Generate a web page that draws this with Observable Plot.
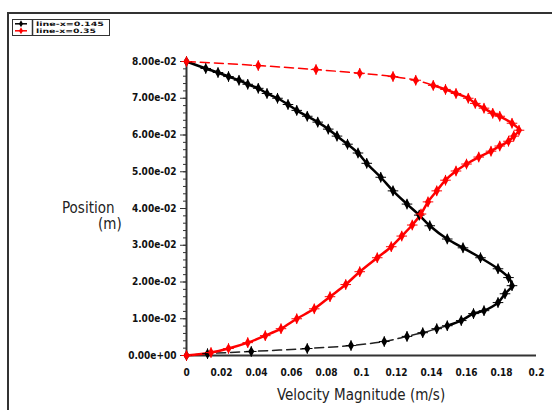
<!DOCTYPE html>
<html>
<head>
<meta charset="utf-8">
<script src="https://cdn.jsdelivr.net/npm/d3@7"></script>
<script src="https://cdn.jsdelivr.net/npm/@observablehq/plot@0.6"></script>
<style>
  html, body { margin: 0; padding: 0; background: #fff; }
  #wrap { position: relative; width: 552px; height: 410px; overflow: hidden; font-family: "DejaVu Sans Condensed", "DejaVu Sans", sans-serif; font-stretch: condensed; }
  #frame { position: absolute; left: 7px; top: 12px; width: 560px; height: 420px; border-top: 2px solid #333; border-left: 2px solid #333; box-sizing: border-box; pointer-events: none; }
  #legend { position: absolute; left: 12px; top: 19px; width: 98px; height: 17px; border: 1.5px solid #333; box-sizing: border-box; background: #fff; }
  #legend svg { position: absolute; left: 0; top: 0; }
  .ytitle { position: absolute; font-size: 15px; color: #222; white-space: nowrap; }
  .xtitle { position: absolute; font-size: 15px; color: #222; white-space: nowrap; }
</style>
</head>
<body>
<div id="wrap">
  <div id="chart"></div>
  <div id="frame"></div>
  <div id="legend"></div>
  <div class="ytitle" style="left:62px;top:199px;">Position</div>
  <div class="ytitle" style="left:98px;top:215px;">(m)</div>
  <div class="xtitle" style="left:277px;top:386px;">Velocity Magnitude (m/s)</div>
</div>
<script>
// ---- Data ----
const seriesNames = ["line-x=0.145", "line-x=0.35"];

const blackX = [0, 0.011, 0.018, 0.024, 0.030, 0.035, 0.041, 0.046, 0.052, 0.058, 0.063, 0.069, 0.075, 0.081, 0.086, 0.092, 0.098, 0.103, 0.111, 0.118, 0.126, 0.133, 0.139, 0.149, 0.158, 0.168, 0.178, 0.184, 0.186, 0.182, 0.178, 0.170, 0.164, 0.157, 0.149, 0.143, 0.135, 0.126, 0.113, 0.094, 0.069, 0.037, 0.012, 0];
const blackY = [0.0800, 0.0781, 0.0770, 0.0759, 0.0749, 0.0738, 0.0727, 0.0713, 0.0700, 0.0683, 0.0667, 0.0651, 0.0635, 0.0616, 0.0597, 0.0575, 0.0551, 0.0523, 0.0485, 0.0448, 0.0412, 0.0382, 0.0353, 0.0317, 0.0293, 0.0266, 0.0236, 0.0212, 0.0190, 0.0168, 0.0144, 0.0122, 0.0114, 0.0095, 0.0081, 0.0073, 0.0062, 0.0052, 0.0038, 0.0027, 0.0019, 0.0011, 0.0005, 0];

const redX = [0, 0.041, 0.074, 0.099, 0.118, 0.131, 0.141, 0.148, 0.154, 0.161, 0.165, 0.170, 0.175, 0.179, 0.186, 0.190, 0.187, 0.184, 0.179, 0.174, 0.167, 0.160, 0.154, 0.148, 0.143, 0.138, 0.134, 0.129, 0.123, 0.117, 0.109, 0.099, 0.091, 0.082, 0.073, 0.063, 0.054, 0.045, 0.035, 0.024, 0.014, 0];
const redY = [0.0800, 0.0789, 0.0778, 0.0768, 0.0759, 0.0749, 0.0735, 0.0724, 0.0713, 0.0700, 0.0686, 0.0673, 0.0659, 0.0651, 0.0632, 0.0613, 0.0597, 0.0583, 0.0570, 0.0556, 0.0540, 0.0521, 0.0502, 0.0477, 0.0448, 0.0418, 0.0385, 0.0355, 0.0325, 0.0296, 0.0266, 0.0228, 0.0193, 0.0160, 0.0127, 0.0100, 0.0073, 0.0054, 0.0035, 0.0019, 0.0008, 0];

const xTicks = [0, 0.02, 0.04, 0.06, 0.08, 0.1, 0.12, 0.14, 0.16, 0.18, 0.2];
const yTicks = [0, 0.01, 0.02, 0.03, 0.04, 0.05, 0.06, 0.07, 0.08];
const yMinorTicks = d3.range(0, 41).map(i => i * 0.002);

// ---- Build tables ----
const black = blackX.map((x, i) => ({x, y: blackY[i], i}));
const red = redX.map((x, i) => ({x, y: redY[i], i}));
// black: solid upper part, dashed lower tail; red: dashed upper part, solid rest
const blackSolid = black.filter(d => d.i <= 34);
const blackDash = black.filter(d => d.i >= 34);
const redDash = red.filter(d => d.i <= 6);
const redSolid = red.filter(d => d.i >= 6);

const fmtY = d => d.toExponential(2).replace(/e([+-])(\d)$/, "e$10$2");
const fmtX = d => String(+d.toFixed(2));

const chart = Plot.plot({
  width: 552,
  height: 410,
  marginLeft: 186,
  marginRight: 16,
  marginTop: 61,
  marginBottom: 55,
  style: {fontFamily: '"DejaVu Sans Condensed", "DejaVu Sans", sans-serif', fontSize: "10px", fontWeight: "bold", color: "#111", background: "transparent"},
  x: {domain: [0, 0.2]},
  y: {domain: [0, 0.08]},
  marks: [
    Plot.axisY({ticks: yMinorTicks, tickSize: 3, text: null, label: null, stroke: "#333"}),
    Plot.axisY({ticks: yTicks, tickSize: 6, tickPadding: 4, tickFormat: fmtY, label: null, stroke: "#333"}),
    Plot.axisX({ticks: xTicks, tickSize: 0, tickPadding: 13, tickFormat: fmtX, label: null}),
    Plot.ruleY([0], {stroke: "#333", strokeWidth: 2}),
    Plot.ruleX([0], {stroke: "#333", strokeWidth: 2}),
    Plot.line(blackSolid, {x: "x", y: "y", stroke: "black", strokeWidth: 2.5, curve: "catmull-rom"}),
    Plot.line(blackDash, {x: "x", y: "y", stroke: "#222", strokeWidth: 1.5, strokeDasharray: "9,5", curve: "catmull-rom"}),
    Plot.line(redDash, {x: "x", y: "y", stroke: "red", strokeWidth: 1.5, strokeDasharray: "9,5", curve: "catmull-rom"}),
    Plot.line(redSolid, {x: "x", y: "y", stroke: "red", strokeWidth: 2.5, curve: "catmull-rom"}),
    Plot.dot(black, {x: "x", y: "y", symbol: "diamond", r: 3.2, fill: "black", stroke: "none"}),
    Plot.dot(black, {x: "x", y: "y", symbol: "plus", r: 3.5, stroke: "black", strokeWidth: 1}),
    Plot.dot(red, {x: "x", y: "y", symbol: "diamond", r: 3.2, fill: "red", stroke: "none"}),
    Plot.dot(red, {x: "x", y: "y", symbol: "plus", r: 3.5, stroke: "red", strokeWidth: 1})
  ]
});
document.getElementById("chart").appendChild(chart);

// ---- Legend ----
const lg = d3.select("#legend").append("svg").attr("width", 96).attr("height", 15);
const colors = ["black", "red"];
const stretch = [68, 60];
seriesNames.forEach((name, k) => {
  const yy = 3.8 + k * 7;
  lg.append("line").attr("x1", 2).attr("x2", 14).attr("y1", yy).attr("y2", yy).attr("stroke", colors[k]).attr("stroke-width", 1.5);
  lg.append("path").attr("d", d3.symbol(d3.symbolDiamond, 14)()).attr("transform", `translate(8,${yy})`).attr("fill", colors[k]);
  lg.append("text").attr("x", 23).attr("y", yy + 2.2).attr("font-size", 6).attr("font-weight", "bold")
    .attr("textLength", stretch[k]).attr("lengthAdjust", "spacingAndGlyphs")
    .attr("font-family", '"DejaVu Sans Condensed", "DejaVu Sans", sans-serif').attr("fill", "#111").text(name);
});
lg.append("line").attr("x1", 19.5).attr("x2", 19.5).attr("y1", 0).attr("y2", 15).attr("stroke", "#333").attr("stroke-width", 1.5);
</script>
</body>
</html>
